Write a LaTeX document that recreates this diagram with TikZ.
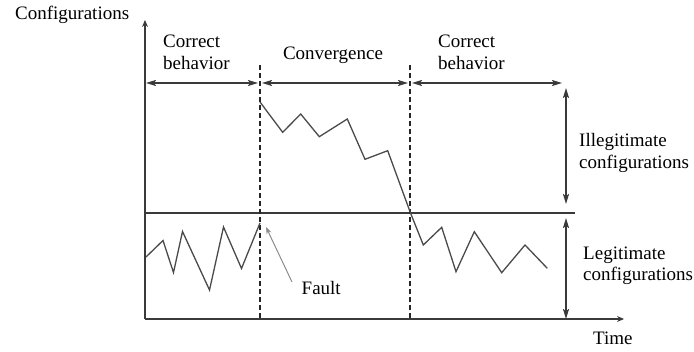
\documentclass[tikz,border=0pt]{standalone}
\usepackage{fontspec}
\setmainfont{Liberation Serif}
\usetikzlibrary{arrows.meta}
\definecolor{axisgray}{HTML}{3A3A3A}
\definecolor{tracegray}{HTML}{4A4A4A}
\definecolor{pointergray}{HTML}{8C8C8C}
\begin{document}
\begin{tikzpicture}[x=1pt,y=-1pt,
  axis/.style={draw=axisgray, line width=1.8pt},
  span/.style={draw=axisgray, line width=1.6pt,
    {Stealth[length=10pt,width=6pt,inset=2pt]}-{Stealth[length=10pt,width=6pt,inset=2pt]}},
  boundary/.style={draw=black!85, line width=1.4pt, dash pattern=on 5pt off 3pt},
  trace/.style={draw=tracegray, line width=1.3pt, line join=miter},
  pointer/.style={draw=pointergray, line width=1pt, -{Stealth[length=7pt,width=5pt]}},
  lbl/.style={font=\fontsize{19}{21.5}\selectfont, inner sep=0pt, align=left, text=black}]
\useasboundingbox (0,0) rectangle (694,352);

% axes
\coordinate (O) at (145,319);
\coordinate (ytop) at (145,20);
\coordinate (xend) at (624,319);
\draw[axis, -{Stealth[length=7pt,width=6pt]}] (O) -- (ytop);
\draw[axis, -{Stealth[length=7pt,width=6pt]}] (O) -- (xend);

% border between legitimate and illegitimate configurations
\coordinate (midL) at (145,213);
\coordinate (midR) at (575,213);
\draw[axis, line width=1.6pt] (midL) -- (midR);

% phase boundaries
\coordinate (b1top) at (260,65);
\coordinate (b1bot) at (260,319);
\coordinate (b2top) at (410,65);
\coordinate (b2bot) at (410,319);
\draw[boundary] (b1top) -- (b1bot);
\draw[boundary] (b2top) -- (b2bot);

% phase spans
\coordinate (s1a) at (146,83);
\coordinate (s1b) at (258,83);
\coordinate (s2a) at (262,83);
\coordinate (s2b) at (408,83);
\coordinate (s3a) at (412,83);
\coordinate (s3b) at (562,83);
\draw[span] (s1a) -- (s1b);
\draw[span] (s2a) -- (s2b);
\draw[span] (s3a) -- (s3b);

% configuration ranges
\coordinate (r1a) at (566,88);
\coordinate (r1b) at (566,204);
\coordinate (r2a) at (566,218);
\coordinate (r2b) at (566,319);
\draw[span] (r1a) -- (r1b);
\draw[span] (r2a) -- (r2b);

% system trace
\coordinate (fault) at (260,223);
\coordinate (jump) at (260,102);
\coordinate (cross) at (410.5,213);
\draw[trace] (146,257) -- (163,240.5) -- (173.5,272.5) -- (182.5,231.5)
  -- (209.5,290) -- (223.5,227) -- (241.5,268.5) -- (fault);
\draw[trace] (jump) -- (282.7,132.3) -- (300.7,114) -- (319.3,136.7)
  -- (347.3,119) -- (365,159.3) -- (387.7,150.7) -- (cross)
  -- (423.3,245) -- (441.7,227.3) -- (456,271.7) -- (474.3,231.7)
  -- (501.7,272.7) -- (525,245) -- (547.3,268.3);

% labels
\node[lbl, anchor=base west] (ylab) at (15,20) {Configurations};
\node[lbl, anchor=base west] (xlab) at (593,345) {Time};
\node[lbl, anchor=north west] (cb1) at (163,35) {Correct\\behavior};
\node[lbl, anchor=base] (conv) at (333,60) {Convergence};
\node[lbl, anchor=north west] (cb2) at (438,35) {Correct\\behavior};
\node[lbl, anchor=north west] (illeg) at (579,133.5) {Illegitimate\\configurations};
\node[lbl, anchor=north west] (leg) at (583,246.5) {Legitimate\\configurations};
\node[lbl, anchor=base west] (faultlbl) at (301.5,295) {Fault};

% pointer to the fault
\coordinate (ptail) at (292,282);
\coordinate (phead) at (266,227);
\draw[pointer] (ptail) -- (phead);
\end{tikzpicture}
\end{document}
